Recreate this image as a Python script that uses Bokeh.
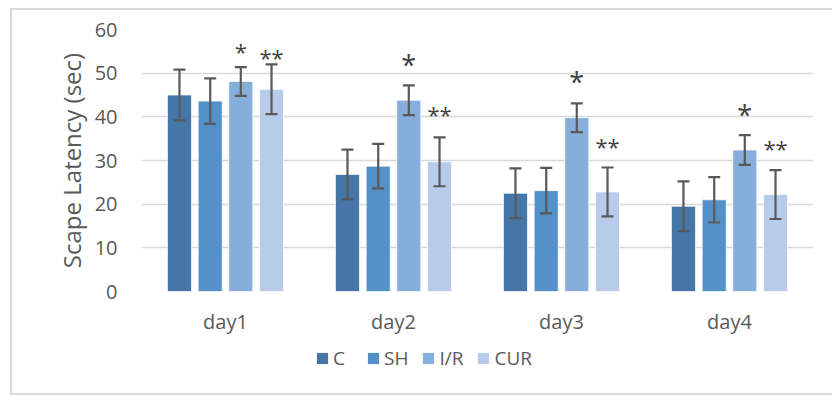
from bokeh.plotting import figure
from bokeh.layouts import column
from bokeh.models import (ColumnDataSource, FactorRange, Whisker, TeeHead, Legend, LegendItem,
                          FixedTicker)
from bokeh.transform import dodge
from bokeh.core.properties import value
from bokeh.embed import file_html
from bokeh.resources import INLINE

days = ["day1", "day2", "day3", "day4"]
groups = ["C", "SH", "I/R", "CUR"]
c_mean = [45.0, 26.8, 22.5, 19.5]
c_err = [5.8, 5.7, 5.7, 5.7]
sh_mean = [43.6, 28.7, 23.1, 21.0]
sh_err = [5.2, 5.1, 5.2, 5.2]
ir_mean = [48.1, 43.8, 39.8, 32.4]
ir_err = [3.3, 3.4, 3.3, 3.4]
cur_mean = [46.3, 29.7, 22.8, 22.2]
cur_err = [5.7, 5.6, 5.6, 5.6]
ir_marks = ["*", "*", "*", "*"]
ir_mark_y = [55.6, 52.4, 48.5, 40.9]
cur_marks = ["**", "**", "**", "**"]
cur_mark_y = [53.8, 40.7, 33.3, 32.9]
y_ticks = [0, 10, 20, 30, 40, 50, 60]

colors = ["#4676A7", "#5591C8", "#86AEDB", "#B7CCE8"]
offsets = [-0.274, -0.091, 0.091, 0.274]
FONT = "Open Sans"
GREY = "#595959"

p = figure(x_range=FactorRange(*days, range_padding=0), y_range=(0, 60),
           width=822, height=335, output_backend="svg", toolbar_location=None,
           min_border_left=129, min_border_right=21, min_border_top=19, min_border_bottom=54)
p.outline_line_color = None
p.background_fill_color = "white"
p.border_fill_color = "white"

means = [c_mean, sh_mean, ir_mean, cur_mean]
errs = [c_err, sh_err, ir_err, cur_err]
for g, m, e, col, off in zip(groups, means, errs, colors, offsets):
    src = ColumnDataSource(dict(day=days, top=m,
                                upper=[a + b for a, b in zip(m, e)],
                                lower=[a - b for a, b in zip(m, e)]))
    p.vbar(x=dodge("day", off, range=p.x_range), top="top", width=0.143, source=src,
           fill_color=col, line_color="white", line_width=1, line_alpha=0.7)
    w = Whisker(base=dodge("day", off, range=p.x_range), upper="upper", lower="lower", source=src,
                line_color=GREY, line_width=2.2, level="annotation",
                upper_head=TeeHead(size=12, line_color=GREY, line_width=2.2),
                lower_head=TeeHead(size=12, line_color=GREY, line_width=2.2))
    p.add_layout(w)

# significance marks
s1 = ColumnDataSource(dict(day=days, y=ir_mark_y, t=ir_marks,
                           fs=["22px", "27px", "27px", "27px"]))
p.text(x=dodge("day", offsets[2], range=p.x_range), y="y", text="t", source=s1,
       text_font=value(FONT), text_font_size="fs", text_color="#404040",
       text_align="center", text_baseline="middle", y_offset=2)
s2 = ColumnDataSource(dict(day=days, y=cur_mark_y, t=cur_marks))
p.text(x=dodge("day", offsets[3], range=p.x_range), y="y", text="t", source=s2,
       text_font=value(FONT), text_font_size="22px", text_color="#404040",
       text_align="center", text_baseline="middle", y_offset=0)

# axes
p.yaxis.ticker = FixedTicker(ticks=y_ticks)
p.yaxis.axis_label = "Scape Latency (sec)"
p.yaxis.axis_label_text_font = FONT
p.yaxis.axis_label_text_font_size = "24px"
p.yaxis.axis_label_text_font_style = "normal"
p.yaxis.axis_label_text_color = GREY
p.yaxis.axis_label_standoff = 4
for ax in (p.xaxis, p.yaxis):
    ax.axis_line_color = None
    ax.major_tick_line_color = None
    ax.minor_tick_line_color = None
    ax.major_label_text_font = FONT
    ax.major_label_text_color = GREY
p.yaxis.major_label_text_font_size = "20px"
p.yaxis.major_label_standoff = 18
p.xaxis.major_label_text_font_size = "20px"
p.xaxis.major_label_standoff = 10

p.xgrid.grid_line_color = None
p.ygrid.grid_line_color = "#D9D9D9"
p.ygrid.grid_line_width = 1.6

# legend strip
pl = figure(width=822, height=48, x_range=(0, 1), y_range=(0, 1),
            x_axis_type=None, y_axis_type=None, output_backend="svg", toolbar_location=None,
            min_border=0)
pl.outline_line_color = None
pl.border_fill_color = "white"
pl.background_fill_color = "white"
items = []
for g, col in zip(groups, colors):
    r = pl.vbar(x=[-5], top=[-5], width=0.1, fill_color=col, line_color=None)
    items.append(LegendItem(label=g, renderers=[r]))
legend = Legend(items=items, orientation="horizontal", location=(174, 22),
                glyph_width=14, glyph_height=14, label_standoff=4, spacing=13,
                padding=0, margin=0, border_line_color=None, background_fill_alpha=0,
                label_text_font=FONT, label_text_font_size="19px", label_text_color=GREY)
pl.add_layout(legend)

layout = column(p, pl, spacing=0, margin=(10, 0, 0, 12),
                styles={"box-shadow": "-2px -2px 0 0 #D9D9D9, -2px 2px 0 0 #D9D9D9",
                        "background": "white"})

open("out.html", "w").write(file_html(layout, INLINE))
